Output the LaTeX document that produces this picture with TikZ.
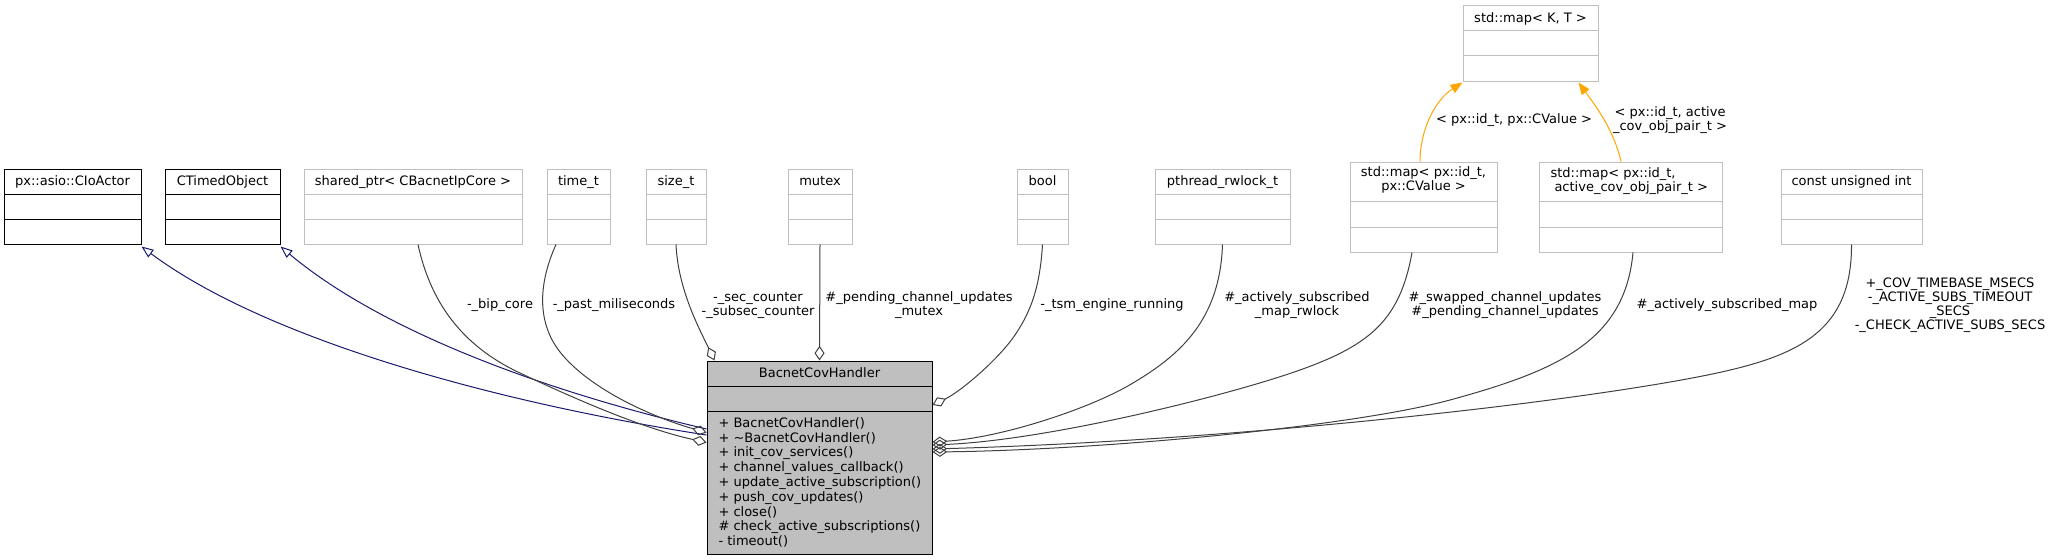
\documentclass[tikz,border=0pt]{standalone}
\usepackage{fontspec}
\setmainfont{DejaVu Sans}
\usetikzlibrary{arrows.meta,fit}
\definecolor{inhblue}{HTML}{191970}
\definecolor{agggrey}{HTML}{404040}
\definecolor{tplorange}{HTML}{FFA500}
\definecolor{boxline}{HTML}{BFBFBF}
\definecolor{mainfill}{HTML}{BFBFBF}
\newcommand\umlclassbox[7]{%
  \node[boxshape, draw=#6, fit={(#2,#3) (#4,#5)}] (#1) {};
  \draw[#6] (#2,#3+25) -- (#4,#3+25);
  \draw[#6] (#2,#3+50) -- (#4,#3+50);
  \node[anchor=base, inner sep=0pt] at ({(#2+#4)/2},#3+16.8) {#7};
}
\begin{document}
\begin{tikzpicture}[x=0.75pt, y=-0.75pt, line width=0.75pt,
  font=\fontsize{9.75}{10.5}\selectfont,
  boxshape/.style={inner sep=0pt, fill=white},
  inh/.style={draw=inhblue, -{Triangle[open, length=9pt, width=7pt]}},
  agg/.style={draw=agggrey, -{Diamond[open, length=11pt, width=7.5pt]}},
  tpl/.style={draw=tplorange, -{Triangle[length=9pt, width=7pt, fill=tplorange]}},
  elabel/.style={inner sep=0pt, align=center, text=black},
]
\useasboundingbox (0,0) rectangle (2049,560);

% top row classes
\umlclassbox{ioactor}{4}{169}{141}{244}{black}{px::asio::CIoActor}
\umlclassbox{timed}{165}{169}{280}{244}{black}{CTimedObject}
\umlclassbox{sptr}{304}{169}{522}{244}{boxline}{shared\_ptr< CBacnetIpCore >}
\umlclassbox{timet}{547}{169}{610}{244}{boxline}{time\_t}
\umlclassbox{sizet}{646}{169}{706}{244}{boxline}{size\_t}
\umlclassbox{mutex}{788}{169}{852}{244}{boxline}{mutex}
\umlclassbox{boolt}{1017}{169}{1068}{244}{boxline}{bool}
\umlclassbox{rwlock}{1155}{169}{1290}{244}{boxline}{pthread\_rwlock\_t}
\umlclassbox{constui}{1781}{169}{1922}{244}{boxline}{const unsigned int}
\umlclassbox{maptpl}{1463}{6}{1598}{82}{boxline}{std::map< K, T >}

% two-line title maps
\node[boxshape, draw=boxline, fit={(1350,162) (1497,252)}] (mapcv) {};
\draw[boxline] (1350,201) -- (1497,201);
\draw[boxline] (1350,227) -- (1497,227);
\node[elabel] at (1423.5,180.4) {std::map< px::id\_t,\\px::CValue >};

\node[boxshape, draw=boxline, fit={(1539,162) (1722,252)}] (mapact) {};
\draw[boxline] (1539,201) -- (1722,201);
\draw[boxline] (1539,227) -- (1722,227);
\node[inner sep=0pt, align=left, anchor=north west] at (1550,167) {std::map< px::id\_t,\\\hspace{3pt}active\_cov\_obj\_pair\_t >};

% main class
\node[fit={(707,361) (932,554)}, inner sep=0pt, draw=black, fill=mainfill] (bacnet) {};
\draw (707,386) -- (932,386);
\draw (707,411) -- (932,411);
\node[anchor=base, inner sep=0pt] at (819.5,377.8) {BacnetCovHandler};
\node[anchor=north west, align=left, inner sep=0pt, font=\fontsize{9.75}{11.1}\selectfont] at (718,417)
 {+ BacnetCovHandler()\\
  + \textasciitilde BacnetCovHandler()\\
  + init\_cov\_services()\\
  + channel\_values\_callback()\\
  + update\_active\_subscription()\\
  + push\_cov\_updates()\\
  + close()\\
  \# check\_active\_subscriptions()\\
  - timeout()};

% inheritance
\draw[inh] ([shift={(0,-22.5)}]bacnet.west) .. controls (480,400) and (260,335) .. ([shift={(0,2)}]ioactor.south east);
\draw[inh] ([shift={(0,-28.5)}]bacnet.west) .. controls (540,390) and (380,330) .. ([shift={(0,2)}]timed.south east);

% aggregation
\draw[agg] ([shift={(5,0)}]sptr.south) .. controls (430,300) and (460,345) .. (520,373)
  .. controls (592,407) and (650,430) .. ([shift={(0,-15)}]bacnet.west);
\draw[agg] ([shift={(-22.5,0)}]timet.south) .. controls (540,280) and (535,320) .. (560,352)
  .. controls (590,390) and (655,418) .. ([shift={(0,-25)}]bacnet.west);
\draw[agg] (sizet.south) .. controls (678,290) and (700,330) .. ([shift={(8,0)}]bacnet.north west);
\draw[agg] (mutex.south) -- (bacnet.north);
\draw[agg] (boolt.south) .. controls (1040,285) and (1032,310) .. (1015,335)
  .. controls (998,360) and (960,392) .. ([shift={(0,-52.5)}]bacnet.east);
\draw[agg] (rwlock.south) .. controls (1220,320) and (1180,355) .. (1133,383)
  .. controls (1090,409) and (1000,438) .. ([shift={(0,-15.5)}]bacnet.east);
\draw[agg] ([shift={(-11.5,0)}]mapcv.south) .. controls (1400,320) and (1370,345) .. (1300,370)
  .. controls (1230,395) and (1050,440) .. ([shift={(0,-12.5)}]bacnet.east);
\draw[agg] ([shift={(2.5,0)}]mapact.south) .. controls (1625,340) and (1560,370) .. (1450,400)
  .. controls (1350,427) and (1100,450) .. ([shift={(0,-5.5)}]bacnet.east);
\draw[agg] (constui.south) .. controls (1852,330) and (1800,355) .. (1717,373)
  .. controls (1592,400) and (1250,440) .. ([shift={(0,-8.5)}]bacnet.east);

% template instances
\draw[tpl] ([shift={(-3.5,0)}]mapcv.north) .. controls (1420,130) and (1435,100) .. (maptpl.south west);
\draw[tpl] ([shift={(-9.5,0)}]mapact.north) .. controls (1614,130) and (1595,105) .. ([shift={(-20,0)}]maptpl.south east);

% edge labels
\node[elabel] at (500,305.5) {-\_bip\_core};
\node[elabel] at (614,305.5) {-\_past\_miliseconds};
\node[elabel] at (758,305.5) {-\_sec\_counter\\-\_subsec\_counter};
\node[elabel] at (919,305.5) {\#\_pending\_channel\_updates\\\_mutex};
\node[elabel] at (1112,305.5) {-\_tsm\_engine\_running};
\node[elabel] at (1297,305.5) {\#\_actively\_subscribed\\\_map\_rwlock};
\node[elabel] at (1505,305.5) {\#\_swapped\_channel\_updates\\\#\_pending\_channel\_updates};
\node[elabel] at (1727,305.5) {\#\_actively\_subscribed\_map};
\node[elabel] at (1950,305.5) {+\_COV\_TIMEBASE\_MSECS\\-\_ACTIVE\_SUBS\_TIMEOUT\hspace*{20pt}\\\_SECS\\-\_CHECK\_ACTIVE\_SUBS\_SECS};
\node[elabel] at (1514,120) {< px::id\_t, px::CValue >};
\node[elabel] at (1670,120) {< px::id\_t, active\\\_cov\_obj\_pair\_t >};
\end{tikzpicture}
\end{document}
